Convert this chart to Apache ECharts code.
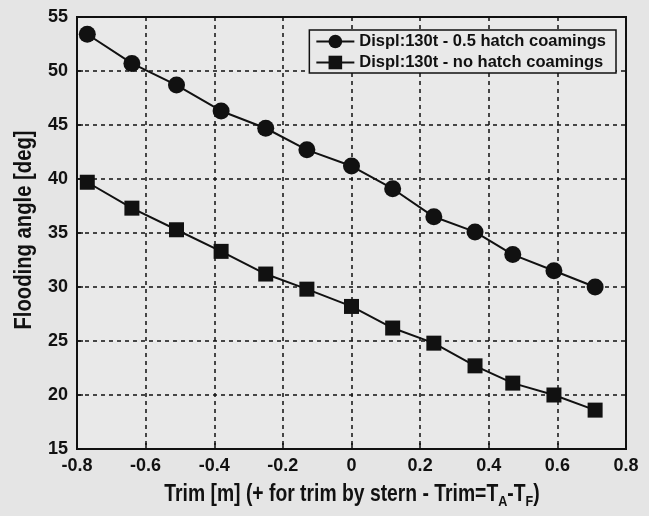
<!DOCTYPE html>
<html>
<head>
<meta charset="utf-8">
<script src="https://cdn.jsdelivr.net/npm/echarts@6/dist/echarts.min.js"></script>
<style>
  html, body { margin: 0; padding: 0; background: #e5e5e5; }
  #chart { width: 649px; height: 516px; }
</style>
</head>
<body>
<div id="chart"></div>
<script>
// Trim values [m] at which the flooding angle was computed
const trim = [-0.77, -0.64, -0.51, -0.38, -0.25, -0.13, 0, 0.12, 0.24, 0.36, 0.47, 0.59, 0.71];
// Flooding angle [deg], 0.5 m hatch coamings
const withCoamings = [53.4, 50.7, 48.7, 46.3, 44.7, 42.7, 41.2, 39.1, 36.5, 35.1, 33.0, 31.5, 30.0];
// Flooding angle [deg], no hatch coamings
const noCoamings = [39.7, 37.3, 35.3, 33.3, 31.2, 29.8, 28.2, 26.2, 24.8, 22.7, 21.1, 20.0, 18.6];

const seriesNames = ['Displ:130t - 0.5 hatch coamings', 'Displ:130t - no hatch coamings'];
const xTitle = 'Trim [m] (+ for trim by stern - Trim=T{sub|A}-T{sub|F})';
const yTitle = 'Flooding angle [deg]';

const font = 'Liberation Sans, Arial, sans-serif';
// axis titles are set in a condensed bold face: regular bold squeezed horizontally
const titleFont = 'bold 23px Liberation Sans, Arial, sans-serif';

function pairs(xs, ys) {
  return xs.map((x, i) => [x, ys[i]]);
}

const chart = echarts.init(document.getElementById('chart'));
chart.setOption({
  backgroundColor: '#e5e5e5',
  animation: false,
  grid: {
    left: 77, right: 23, top: 17, bottom: 67,
    outerBoundsMode: 'none',
    show: true,
    backgroundColor: '#e9e9e9',
    borderColor: '#111',
    borderWidth: 2
  },
  legend: {
    top: 30, right: 33,
    orient: 'vertical',
    itemGap: 4,
    itemWidth: 38,
    itemHeight: 17,
    padding: [3, 10, 2, 6],
    borderColor: '#111',
    borderWidth: 1.5,
    backgroundColor: '#e9e9e9',
    textStyle: { fontFamily: font, fontWeight: 'bold', fontSize: 16.5, color: '#111' },
    data: seriesNames
  },
  graphic: [
    {
      type: 'text',
      x: 352, y: 495,
      scaleX: 0.84,
      style: {
        text: xTitle,
        font: titleFont,
        fill: '#111',
        align: 'center',
        verticalAlign: 'middle',
        rich: {
          sub: { font: 'bold 15px Liberation Sans, Arial, sans-serif', fill: '#111', padding: [14, 0, 0, 0] }
        }
      }
    },
    {
      type: 'text',
      x: 25, y: 230,
      rotation: Math.PI / 2,
      scaleX: 0.88,
      style: {
        text: yTitle,
        font: titleFont,
        fill: '#111',
        align: 'center',
        verticalAlign: 'middle'
      }
    }
  ],
  xAxis: {
    type: 'value',
    min: -0.8, max: 0.8, interval: 0.2,
    axisLine: { show: true, onZero: false, lineStyle: { color: '#111', width: 2 } },
    axisTick: { show: true, inside: true, length: 6, lineStyle: { color: '#111', width: 1.5 } },
    axisLabel: {
      margin: 8,
      fontFamily: font, fontWeight: 'bold', fontSize: 18, color: '#111',
      formatter: v => (Math.abs(v) < 1e-9 ? '0' : String(Math.round(v * 10) / 10))
    },
    splitLine: { show: true, lineStyle: { color: '#111', type: [4, 4], width: 1.5 } }
  },
  yAxis: {
    type: 'value',
    min: 15, max: 55, interval: 5,
    axisLine: { show: true, onZero: false, lineStyle: { color: '#111', width: 2 } },
    axisTick: { show: true, inside: true, length: 6, lineStyle: { color: '#111', width: 1.5 } },
    axisLabel: { margin: 9, fontFamily: font, fontWeight: 'bold', fontSize: 18, color: '#111' },
    splitLine: { show: true, lineStyle: { color: '#111', type: [4, 4], width: 1.5 } }
  },
  series: [
    {
      name: seriesNames[0],
      type: 'line',
      data: pairs(trim, withCoamings),
      symbol: 'circle',
      symbolSize: 17,
      lineStyle: { color: '#111', width: 2 },
      itemStyle: { color: '#111' }
    },
    {
      name: seriesNames[1],
      type: 'line',
      data: pairs(trim, noCoamings),
      symbol: 'rect',
      symbolSize: 15,
      lineStyle: { color: '#111', width: 2 },
      itemStyle: { color: '#111' }
    }
  ]
});
</script>
</body>
</html>
